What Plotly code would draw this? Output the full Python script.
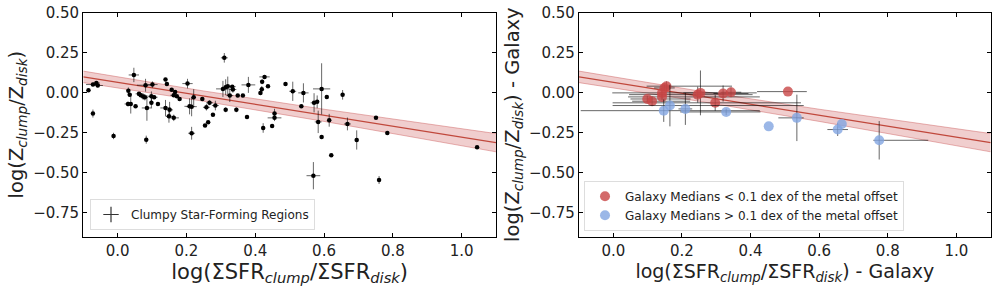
import plotly.graph_objects as go

# ---------------- data: left panel (individual clumps) ----------------
clump_x = [-0.085, -0.072, -0.062, -0.058, -0.072, -0.012, 0.047, 0.031, 0.035, 0.030,
           0.038, 0.052, 0.062, 0.067, 0.074, 0.081, 0.079, 0.085, 0.083, 0.101,
           0.098, 0.106, 0.098, 0.117, 0.139, 0.143, 0.139, 0.151, 0.149, 0.163,
           0.157, 0.167, 0.163, 0.172, 0.180, 0.203, 0.209, 0.215, 0.221, 0.215,
           0.246, 0.258, 0.267, 0.277, 0.284, 0.254, 0.263, 0.310, 0.306, 0.314,
           0.320, 0.326, 0.335, 0.333, 0.314, 0.345, 0.349, 0.364, 0.380, 0.376,
           0.415, 0.419, 0.420, 0.427, 0.437, 0.423, 0.449, 0.456, 0.456, 0.488,
           0.509, 0.540, 0.534, 0.571, 0.580, 0.593, 0.583, 0.593, 0.608, 0.615,
           0.621, 0.654, 0.668, 0.695, 0.751, 0.784, 0.569, 0.760, 1.045]
clump_y = [0.014, 0.050, 0.060, 0.044, -0.131, -0.271, 0.110, 0.012, -0.013, -0.071,
           -0.071, -0.086, -0.008, -0.017, -0.025, 0.046, -0.029, -0.096, -0.294, 0.050,
           -0.023, -0.029, -0.064, -0.071, 0.081, 0.054, -0.096, -0.108, -0.148, -0.158,
           0.017, 0.004, -0.017, -0.023, -0.040, 0.056, -0.086, -0.088, -0.029, -0.254,
           -0.040, -0.092, -0.064, -0.138, -0.081, -0.206, -0.186, 0.217, 0.023, 0.033,
           0.040, -0.019, 0.019, 0.037, -0.108, -0.108, -0.019, -0.019, 0.048, -0.152,
           -0.002, 0.021, 0.067, 0.098, 0.040, -0.221, -0.208, -0.158, -0.131, 0.054,
           0.008, -0.002, -0.086, -0.064, -0.058, 0.023, -0.183, -0.277, -0.027, -0.173,
           -0.392, -0.014, -0.196, -0.296, -0.158, -0.252, -0.519, -0.546, -0.342]
clump_yerr = [0.0, 0.01, 0.01, 0.01, 0.025, 0.02, 0.045, 0.02, 0.01, 0.015,
              0.06, 0.01, 0.01, 0.01, 0.02, 0.04, 0.02, 0.08, 0.025, 0.02,
              0.03, 0.01, 0.03, 0.01, 0.01, 0.01, 0.05, 0.05, 0.04, 0.02,
              0.01, 0.01, 0.01, 0.01, 0.01, 0.03, 0.05, 0.06, 0.05, 0.04,
              0.01, 0.02, 0.015, 0.01, 0.03, 0.01, 0.01, 0.03, 0.05, 0.05,
              0.06, 0.04, 0.02, 0.01, 0.015, 0.015, 0.0, 0.0, 0.05, 0.0,
              0.01, 0.02, 0.015, 0.01, 0.0, 0.03, 0.01, 0.02, 0.03, 0.0,
              0.06, 0.06, 0.01, 0.06, 0.04, 0.16, 0.07, 0.0, 0.0, 0.04,
              0.0, 0.03, 0.04, 0.06, 0.0, 0.0, 0.085, 0.025, 0.0]
clump_xerr = [0.0, 0.02, 0.01, 0.015, 0.0, 0.0, 0.015, 0.0, 0.0, 0.01,
              0.0, 0.0, 0.01, 0.01, 0.01, 0.025, 0.01, 0.015, 0.0, 0.015,
              0.01, 0.01, 0.0, 0.0, 0.0, 0.0, 0.015, 0.01, 0.01, 0.015,
              0.0, 0.0, 0.01, 0.0, 0.0, 0.015, 0.015, 0.015, 0.0, 0.01,
              0.0, 0.01, 0.01, 0.0, 0.01, 0.0, 0.0, 0.01, 0.02, 0.01,
              0.01, 0.01, 0.01, 0.01, 0.0, 0.0, 0.0, 0.0, 0.02, 0.0,
              0.0, 0.0, 0.0, 0.015, 0.0, 0.0, 0.0, 0.02, 0.0, 0.0,
              0.01, 0.015, 0.0, 0.01, 0.0, 0.025, 0.01, 0.0, 0.0, 0.0,
              0.0, 0.0, 0.01, 0.0, 0.0, 0.0, 0.02, 0.0, 0.0]

# ---------------- data: right panel (galaxy medians) ----------------
red_x = [0.099, 0.113, 0.142, 0.142, 0.149, 0.155, 0.246, 0.254, 0.297, 0.320, 0.343, 0.509]
red_y = [-0.040, -0.054, -0.002, -0.027, 0.029, 0.040, -0.013, -0.002, -0.064, -0.006, 0.002, 0.006]
red_xerr_plus = [0.126, 0.111, 0.276, 0.285, 0.03, 0.191, 0.16, 0.05, 0.25, 0.074, 0.03, 0.055]
red_xerr_minus = [0.049, 0.058, 0.145, 0.099, 0.03, 0.058, 0.20, 0.05, 0.299, 0.028, 0.03, 0.09]
red_yerr = [0.02, 0.03, 0.03, 0.02, 0.02, 0.03, 0.05, 0.14, 0.05, 0.05, 0.03, 0.0]

blue_x = [0.147, 0.165, 0.210, 0.329, 0.453, 0.535, 0.654, 0.666, 0.775]
blue_y = [-0.113, -0.081, -0.102, -0.121, -0.211, -0.158, -0.231, -0.196, -0.298]
blue_xerr_plus = [0.28, 0.39, 0.02, 0.10, 0.0, 0.02, 0.03, 0.0, 0.143]
blue_xerr_minus = [0.242, 0.167, 0.02, 0.134, 0.0, 0.054, 0.03, 0.0, 0.017]
blue_yerr = [0.07, 0.13, 0.10, 0.02, 0.0, 0.145, 0.04, 0.0, 0.12]

# ---------------- fit line and confidence band ----------------
fit_x = [-0.1, 0.25, 0.6, 1.1]
fit_y = [0.098, -0.022, -0.142, -0.313]
band_upper = [0.134, 0.010, -0.104, -0.256]
band_lower = [0.062, -0.054, -0.180, -0.370]

x_ticks = [0.0, 0.2, 0.4, 0.6, 0.8, 1.0]
x_tick_text = ["0.0", "0.2", "0.4", "0.6", "0.8", "1.0"]
y_ticks = [0.50, 0.25, 0.00, -0.25, -0.50, -0.75]
y_tick_text = ["0.50", "0.25", "0.00", "−0.25", "−0.50", "−0.75"]

FONT = "DejaVu Sans"
BAND_FILL = "rgba(205,92,92,0.30)"
BAND_EDGE = "rgba(205,92,92,0.45)"
FIT_COLOR = "rgb(192,72,60)"
ERR_COLOR = "rgba(0,0,0,0.6)"

fig = go.Figure()


def add_fit(xa, ya):
    fig.add_trace(go.Scatter(x=fit_x, y=band_lower, mode="lines",
                             line=dict(color=BAND_EDGE, width=1),
                             xaxis=xa, yaxis=ya, showlegend=False, hoverinfo="skip"))
    fig.add_trace(go.Scatter(x=fit_x, y=band_upper, mode="lines", fill="tonexty",
                             fillcolor=BAND_FILL, line=dict(color=BAND_EDGE, width=1),
                             xaxis=xa, yaxis=ya, showlegend=False, hoverinfo="skip"))
    fig.add_trace(go.Scatter(x=fit_x, y=fit_y, mode="lines",
                             line=dict(color=FIT_COLOR, width=1.3),
                             xaxis=xa, yaxis=ya, showlegend=False, hoverinfo="skip"))


add_fit("x", "y")
fig.add_trace(go.Scatter(
    x=clump_x, y=clump_y, mode="markers", name="Clumpy Star-Forming Regions",
    marker=dict(color="black", size=4.5),
    error_x=dict(type="data", array=clump_xerr, color=ERR_COLOR, thickness=1, width=0),
    error_y=dict(type="data", array=clump_yerr, color=ERR_COLOR, thickness=1, width=0),
    xaxis="x", yaxis="y", showlegend=False))
# legend-only entry showing a "+" like the errorbar symbol
fig.add_trace(go.Scatter(
    x=[None], y=[None], mode="markers", name="Clumpy Star-Forming Regions",
    marker=dict(symbol="cross-thin", size=11, color="black",
                line=dict(color="rgba(0,0,0,0.8)", width=1.2)),
    xaxis="x", yaxis="y", legend="legend"))

add_fit("x2", "y2")
fig.add_trace(go.Scatter(
    x=red_x, y=red_y, mode="markers", name="Galaxy Medians < 0.1 dex of the metal offset",
    marker=dict(color="rgba(200,70,70,0.8)", size=10),
    error_x=dict(type="data", symmetric=False, array=red_xerr_plus, arrayminus=red_xerr_minus,
                 color=ERR_COLOR, thickness=1, width=0),
    error_y=dict(type="data", array=red_yerr, color=ERR_COLOR, thickness=1, width=0),
    xaxis="x2", yaxis="y2", legend="legend2"))
fig.add_trace(go.Scatter(
    x=blue_x, y=blue_y, mode="markers", name="Galaxy Medians > 0.1 dex of the metal offset",
    marker=dict(color="rgba(130,165,225,0.8)", size=10),
    error_x=dict(type="data", symmetric=False, array=blue_xerr_plus, arrayminus=blue_xerr_minus,
                 color=ERR_COLOR, thickness=1, width=0),
    error_y=dict(type="data", array=blue_yerr, color=ERR_COLOR, thickness=1, width=0),
    xaxis="x2", yaxis="y2", legend="legend2"))

ydom = [1 - 236.7 / 287, 1 - 12.5 / 287]
axis_common = dict(showgrid=False, zeroline=False, showline=True, linecolor="black",
                   linewidth=1.3, mirror="allticks", ticks="inside", ticklen=4,
                   tickwidth=1, tickcolor="black",
                   tickfont=dict(family=FONT, size=15, color="#222"), automargin=False)

fig.update_layout(
    width=997, height=287,
    margin=dict(l=0, r=0, t=0, b=0),
    paper_bgcolor="white", plot_bgcolor="white",
    font=dict(family=FONT, color="#222"),
    xaxis=dict(domain=[83.3 / 997, 496 / 997], range=[-0.1, 1.1], tickvals=x_ticks,
               ticktext=x_tick_text,
               title=dict(text="log(ΣSFR<sub><i>clump</i></sub>/ΣSFR<sub><i>disk</i></sub>)",
                          font=dict(family=FONT, size=21), standoff=3),
               anchor="y", **axis_common),
    yaxis=dict(domain=ydom, range=[-0.9, 0.5], tickvals=y_ticks,
               ticktext=y_tick_text,
               title=dict(text="log(Z<sub><i>clump</i></sub>/Z<sub><i>disk</i></sub>)",
                          font=dict(family=FONT, size=19.5), standoff=4),
               anchor="x", **axis_common),
    xaxis2=dict(domain=[579 / 997, 990.7 / 997], range=[-0.1, 1.1], tickvals=x_ticks,
                ticktext=x_tick_text,
                title=dict(text="log(ΣSFR<sub><i>clump</i></sub>/ΣSFR<sub><i>disk</i></sub>) - Galaxy",
                           font=dict(family=FONT, size=19), standoff=3),
                anchor="y2", **axis_common),
    yaxis2=dict(domain=ydom, range=[-0.9, 0.5], tickvals=y_ticks,
                ticktext=y_tick_text,
                title=dict(text="log(Z<sub><i>clump</i></sub>/Z<sub><i>disk</i></sub>) - Galaxy",
                           font=dict(family=FONT, size=19.5), standoff=4),
                anchor="x2", **axis_common),
    legend=dict(x=90 / 997, y=1 - 230 / 287, xanchor="left", yanchor="bottom",
                bgcolor="white", bordercolor="#ddd", borderwidth=1,
                font=dict(family=FONT, size=12, color="#222")),
    legend2=dict(x=584 / 997, y=1 - 230.7 / 287, xanchor="left", yanchor="bottom",
                 bgcolor="white", bordercolor="#ddd", borderwidth=1,
                 font=dict(family=FONT, size=12, color="#222")),
)

fig.write_html("out.html", config={"displayModeBar": False},
               post_script="document.body.style.margin='0px';document.body.style.overflow='hidden';")
